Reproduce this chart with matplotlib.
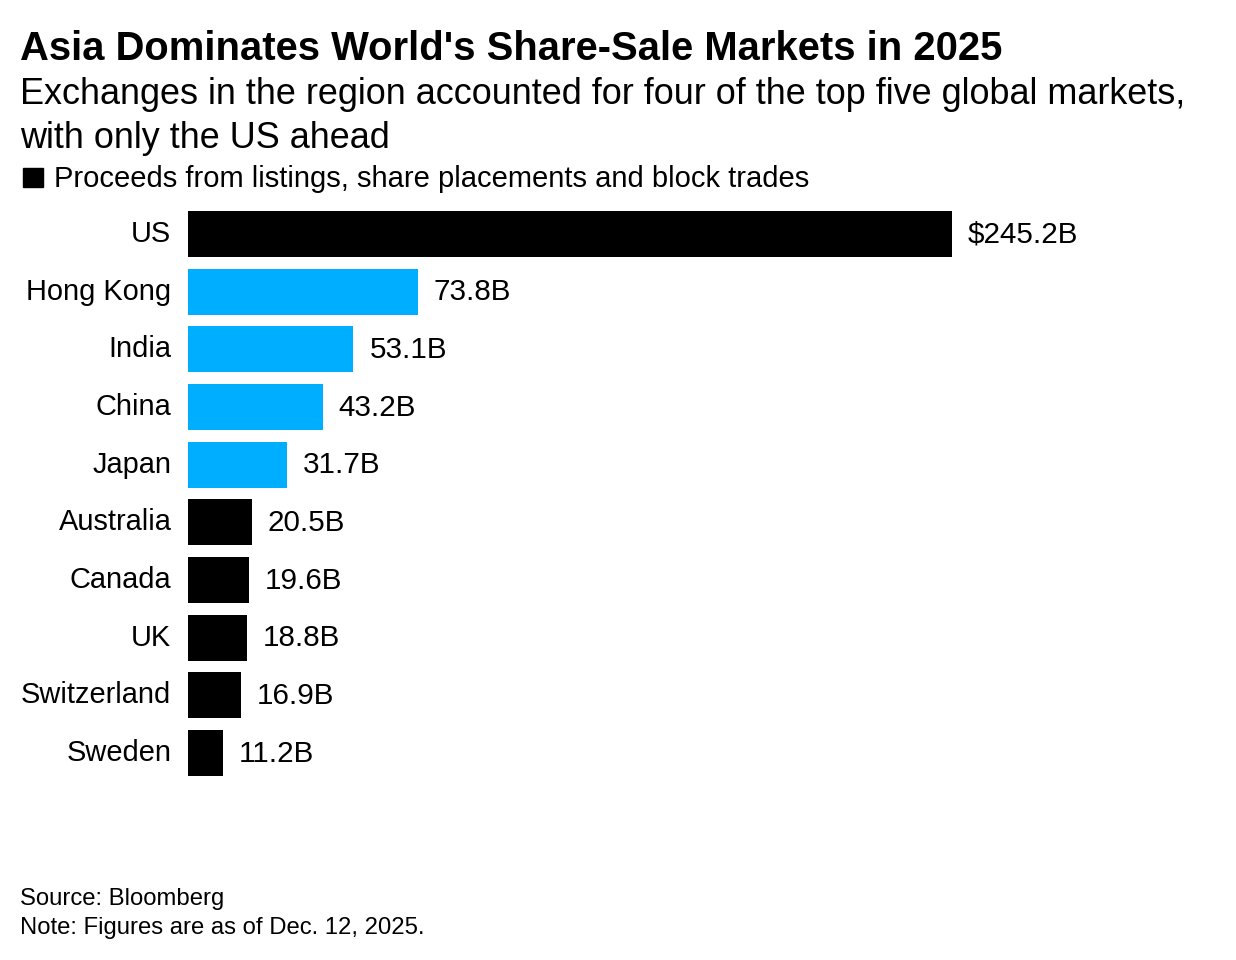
import matplotlib
matplotlib.use("Agg")
import matplotlib.pyplot as plt

plt.rcParams["font.family"]=["Liberation Sans","DejaVu Sans"]

markets=[
    "US","Hong Kong","India","China","Japan",
    "Australia","Canada","UK","Switzerland","Sweden"
]

proceeds=[245.2,73.8,53.1,43.2,31.7,20.5,19.6,18.8,16.9,11.2]

asia=["Hong Kong","India","China","Japan"]

BLUE="#00aeff"

W,H=1236,960

fig=plt.figure(figsize=(W/100,H/100),dpi=100)

# axes placed in pixel terms: x=0 at 188px, 245.2 at 952px
x0,x1=188,1188
y_top,y_bot=205.2,781.8

ax=fig.add_axes([
    x0/W,
    1-y_bot/H,
    (x1-x0)/W,
    (y_bot-y_top)/H
])

colors=[BLUE if m in asia else "black" for m in markets]

ypos=list(range(len(markets)))

ax.barh(
    ypos,
    proceeds,
    height=0.8,
    color=colors
)

ax.set_xlim(0,245.2*(x1-x0)/(952-188))
ax.set_ylim(len(markets)-0.5,-0.5)

for i,v in enumerate(proceeds):
    lab=f"{v:.1f}B"
    if i==0:
        lab="$"+lab
    ax.annotate(
        lab,
        (v,i),
        xytext=(11.5,-0.5),
        textcoords="offset points",
        va="center",
        ha="left",
        fontsize=21.3
    )

ax.set_yticks(ypos)
ax.set_yticklabels(markets,fontsize=20.9)
ax.tick_params(axis="y",length=0,pad=12)
ax.set_xticks([])

for lbl in ax.get_yticklabels():
    lbl.set_va("center")
    lbl.set_y(lbl.get_position()[1])

for s in ax.spines.values():
    s.set_visible(False)

fig.text(
    20/W,1-60/H,
    "Asia Dominates World's Share-Sale Markets in 2025",
    fontsize=28.8,
    fontweight="bold",
    ha="left",
    va="baseline"
)

fig.text(
    20/W,1-104/H,
    "Exchanges in the region accounted for four of the top five global markets,",
    fontsize=25.9,
    ha="left",
    va="baseline"
)

fig.text(
    20/W,1-148/H,
    "with only the US ahead",
    fontsize=25.9,
    ha="left",
    va="baseline"
)

fig.patches.append(
    plt.Rectangle(
        (23/W,1-187/H),
        20/W,
        19/H,
        transform=fig.transFigure,
        color="black"
    )
)

fig.text(
    54/W,1-187/H,
    "Proceeds from listings, share placements and block trades",
    fontsize=21,
    ha="left",
    va="baseline"
)

fig.text(
    20/W,1-905/H,
    "Source: Bloomberg",
    fontsize=17.2,
    ha="left",
    va="baseline"
)

fig.text(
    20/W,1-934/H,
    "Note: Figures are as of Dec. 12, 2025.",
    fontsize=17.2,
    ha="left",
    va="baseline"
)

fig.savefig("out.png",dpi=100)
